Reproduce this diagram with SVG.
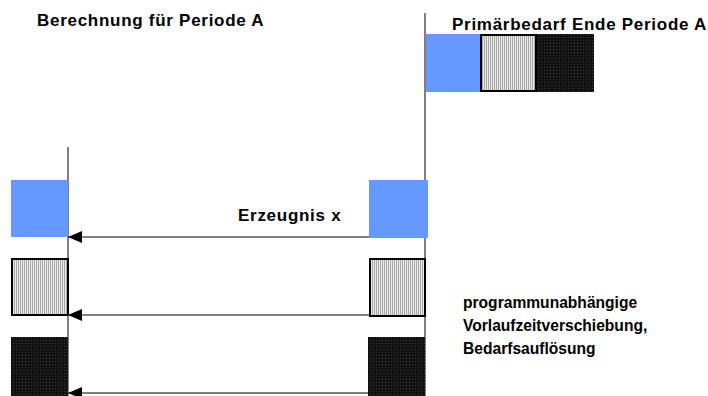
<svg xmlns="http://www.w3.org/2000/svg" width="708" height="396" viewBox="0 0 708 396">
  <defs>
    <!-- vertical hatching for the second component -->
    <pattern id="stripes" width="2" height="4" patternUnits="userSpaceOnUse">
      <rect width="2" height="4" fill="#eaeaea"/>
      <rect width="1" height="4" fill="#a8a8a8"/>
    </pattern>
    <!-- dark dotted fill for the third component -->
    <pattern id="dots" width="3" height="3" patternUnits="userSpaceOnUse">
      <rect width="3" height="3" fill="#111"/>
      <rect x="1" y="1" width="1" height="1" fill="#3a3a3a"/>
    </pattern>
    <marker id="head" viewBox="0 0 14 12" refX="0" refY="6" markerWidth="14" markerHeight="12" markerUnits="userSpaceOnUse" orient="auto">
      <path d="M0,6 L14,0 L14,12 Z" fill="#000"/>
    </marker>
  </defs>
  <style>
    .lbl { font-family: "Liberation Sans", Arial, sans-serif; font-weight: bold; font-size: 17px; letter-spacing: 0.72px; fill: #000; }
    .note { font-family: "Liberation Sans", Arial, sans-serif; font-weight: bold; font-size: 15.6px; fill: #000; }
    .axis { stroke: #555; stroke-width: 1.5; fill: none; }
    .flow { stroke: #555; stroke-width: 1.5; fill: none; marker-start: url(#head); }
    .blue { fill: #6699ff; }
    .hatch { fill: url(#stripes); stroke: #000; stroke-width: 2; }
    .dark { fill: url(#dots); }
  </style>

  <rect width="708" height="396" fill="#fff"/>

  <text class="lbl" x="37" y="26">Berechnung für Periode A</text>
  <text class="lbl" x="452" y="30">Primärbedarf Ende Periode A</text>

  <!-- time axes -->
  <g id="axes">
    <line class="axis" x1="425" y1="13" x2="425" y2="396"/>
    <line class="axis" x1="68" y1="147" x2="68" y2="396"/>
  </g>

  <!-- primary demand at end of period A -->
  <g id="primary">
    <rect class="blue" x="426" y="34" width="55" height="58"/>
    <rect class="hatch" x="481" y="35" width="55" height="56"/>
    <rect class="dark" x="537" y="34" width="57" height="58"/>
  </g>

  <!-- components after offset -->
  <g id="components-right">
    <rect class="blue" x="369" y="180" width="59" height="58"/>
    <rect class="hatch" x="370" y="259" width="55" height="57"/>
    <rect class="dark" x="368" y="337" width="57" height="59"/>
  </g>

  <g id="components-left">
    <rect class="blue" x="11" y="180" width="57" height="57"/>
    <rect class="hatch" x="12" y="259" width="56" height="56"/>
    <rect class="dark" x="11" y="337" width="57" height="59"/>
  </g>

  <g id="connectors">
    <line class="flow" x1="68" y1="237" x2="369" y2="237"/>
    <line class="flow" x1="68" y1="315" x2="369" y2="315"/>
    <line class="flow" x1="68" y1="393" x2="368" y2="393"/>
  </g>

  <text class="lbl" x="238" y="221">Erzeugnis x</text>
  <text class="note" x="463" y="308">programmunabhängige</text>
  <text class="note" x="463" y="331">Vorlaufzeitverschiebung,</text>
  <text class="note" x="463" y="354">Bedarfsauflösung</text>
</svg>
